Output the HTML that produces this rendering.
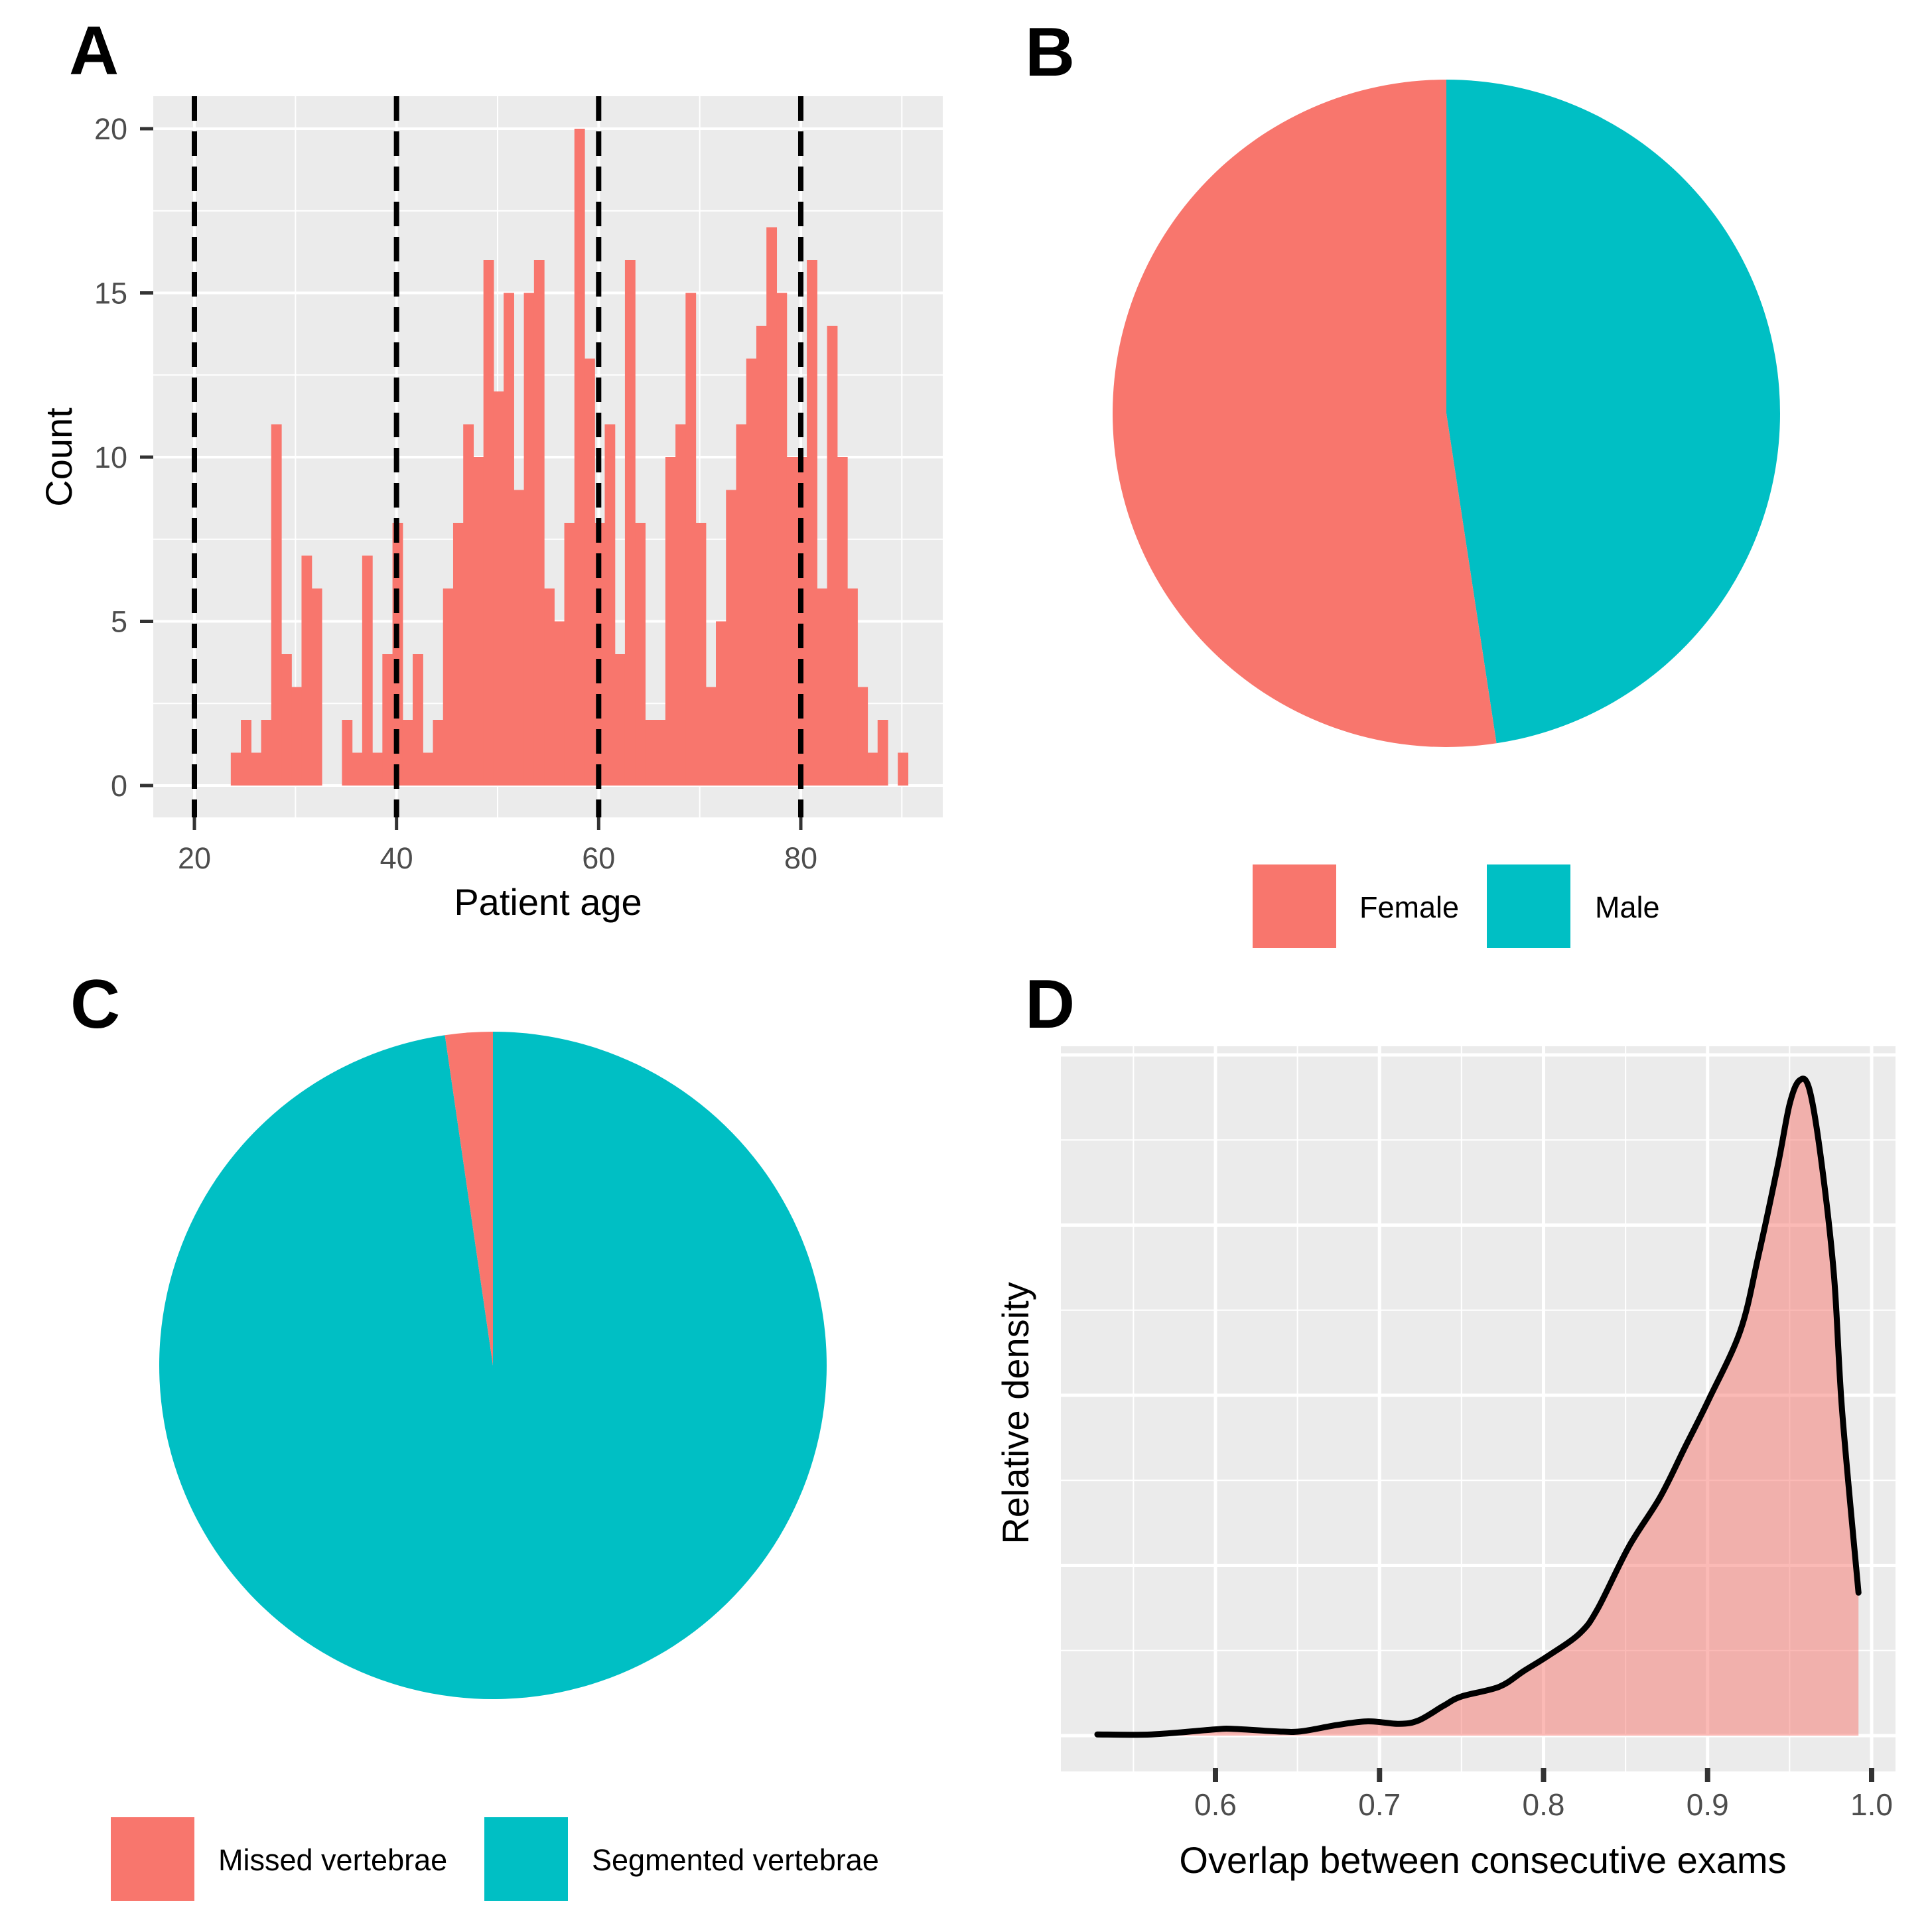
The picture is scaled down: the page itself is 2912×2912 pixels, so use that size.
<!DOCTYPE html>
<html><head><meta charset="utf-8"><style>
html,body{margin:0;padding:0;background:#fff}
svg{display:block}
text{font-family:"Liberation Sans",Arial,sans-serif}
</style></head><body>
<svg id="fig" width="2912" height="2912" viewBox="0 0 2912 2912" xmlns="http://www.w3.org/2000/svg">
<g id="pA"></g>
<g id="pB"></g>
<g id="pC"></g>
<g id="pD"></g>
</svg>
<script>
// ---- Panel A data ----
const binStart = 23.6;
const binWidth = 1;
const ageCounts = [1,2,1,2,11,4,3,7,6,0,0,2,1,7,1,4,8,2,4,1,2,6,8,11,10,16,12,15,9,15,16,6,5,8,20,13,8,11,4,16,8,2,2,10,11,15,8,3,5,9,11,13,14,17,15,10,10,16,6,14,10,6,3,1,2,0,1];
const ageTicks = [20,40,60,80];
const ageMinor = [30,50,70,90];
const countTicks = [0,5,10,15,20];
const dashedAges = [20,40,60,80];
// ---- Panel B data ----
const sexLabels = ["Female","Male"];
const sexShares = [52.4,47.6];
// ---- Panel C data ----
const vertLabels = ["Missed vertebrae","Segmented vertebrae"];
const vertShares = [2.3,97.7];
// ---- Panel D data ----
const overlapX = [0.528,0.561,0.599,0.61,0.637,0.652,0.674,0.693,0.712,0.724,0.739,0.75,0.773,0.788,0.803,0.822,0.833,0.852,0.871,0.886,0.901,0.92,0.931,0.943,0.95,0.956,0.962,0.969,0.977,0.982,0.992];
const densityY = [0.007,0.007,0.036,0.04,0.025,0.025,0.062,0.084,0.069,0.09,0.175,0.23,0.287,0.38,0.47,0.6,0.745,1.11,1.4,1.69,1.98,2.38,2.82,3.36,3.71,3.85,3.8,3.4,2.71,1.91,0.84];
const overlapTicks = [0.6,0.7,0.8,0.9,1.0];
const overlapMinor = [0.55,0.65,0.75,0.85,0.95];
const densityGrid = [0,1,2,3,4];

const NS="http://www.w3.org/2000/svg";
const RED="#F8766D", TEAL="#00BFC4", GRID="#EBEBEB";
function mk(parent,tag,attrs,txt){const e=document.createElementNS(NS,tag);for(const k in attrs)e.setAttribute(k,attrs[k]);if(txt!==undefined)e.textContent=txt;parent.appendChild(e);return e;}

// ===== Panel A =====
const A=document.getElementById('pA');
const ax=v=>293+(v-20)*15.233, ay=c=>1184-c*49.5;
const AL=231,AR=1421,AT=145,AB=1232;
let e=mk(A,'rect',{x:AL,y:AT,width:AR-AL,height:AB-AT,fill:GRID});


for(const v of ageMinor){e=mk(A,'line',{x1:ax(v),x2:ax(v),y1:AT,y2:AB,stroke:'#fff','stroke-width':2});

}
for(let c=2.5;c<20;c+=5){e=mk(A,'line',{x1:AL,x2:AR,y1:ay(c),y2:ay(c),stroke:'#fff','stroke-width':2});

}
for(const v of ageTicks){e=mk(A,'line',{x1:ax(v),x2:ax(v),y1:AT,y2:AB,stroke:'#fff','stroke-width':4});

}
for(const c of countTicks){e=mk(A,'line',{x1:AL,x2:AR,y1:ay(c),y2:ay(c),stroke:'#fff','stroke-width':4});

}
ageCounts.forEach((c,i)=>{if(c<=0)return;const x0=ax(binStart+i*binWidth),x1=ax(binStart+(i+1)*binWidth);
const b=mk(A,'rect',{x:x0,y:ay(c),width:x1-x0+0.6,height:ay(0)-ay(c),fill:RED});

});
for(const v of dashedAges){e=mk(A,'line',{x1:ax(v),x2:ax(v),y1:AT,y2:AB,stroke:'#000','stroke-width':8,'stroke-dasharray':'37 16'});

}
for(const c of countTicks){
e=mk(A,'line',{x1:211,x2:231,y1:ay(c),y2:ay(c),stroke:'#333','stroke-width':5});


e=mk(A,'text',{x:192,y:ay(c)+16,'text-anchor':'end','font-size':45,fill:'#4d4d4d'},String(c));

}
for(const v of ageTicks){
e=mk(A,'line',{x1:ax(v),x2:ax(v),y1:AB,y2:AB+19,stroke:'#333','stroke-width':5});


e=mk(A,'text',{x:ax(v),y:1309,'text-anchor':'middle','font-size':45,fill:'#4d4d4d'},String(v));

}
e=mk(A,'text',{x:826,y:1379,'text-anchor':'middle','font-size':56,fill:'#000'},'Patient age');


e=mk(A,'text',{x:0,y:0,'text-anchor':'middle','font-size':56,fill:'#000',transform:'translate(108,689) rotate(-90)'},'Count');


e=mk(A,'text',{x:104,y:112,'font-size':104,'font-weight':'bold',fill:'#000'},'A');



// ===== Pies =====
function pie(G,cx,cy,r,shares,labels,colors,legendY,sq,textX){
 const tot=shares.reduce((a,b)=>a+b,0);
 let ang=0;
 const order=[...shares.keys()].reverse();
 for(const i of order){
  const a0=ang, a1=ang+shares[i]/tot*360; ang=a1;
  const p=a=>[cx+r*Math.sin(a*Math.PI/180),cy-r*Math.cos(a*Math.PI/180)];
  const s=p(a0),t=p(a1),large=(a1-a0)>180?1:0;
  const path=mk(G,'path',{d:`M${cx},${cy} L${s[0]},${s[1]} A${r},${r} 0 ${large} 1 ${t[0]},${t[1]} Z`,fill:colors[i]});
  
  
 }
 labels.forEach((l,i)=>{
  const k=mk(G,'rect',{x:sq[i],y:legendY,width:126,height:126,fill:colors[i]});
  
  
  const t=mk(G,'text',{x:textX[i],y:legendY+80,'font-size':45,fill:'#000'},l);
  
  
 });
}
const B=document.getElementById('pB');
pie(B,2180,623,503,sexShares,sexLabels,[RED,TEAL],1303,[1888,2241],[2049,2404]);
e=mk(B,'text',{x:1545,y:114,'font-size':104,'font-weight':'bold',fill:'#000'},'B');


const C=document.getElementById('pC');
pie(C,743,2058,503,vertShares,vertLabels,[RED,TEAL],2739,[167,730],[329,892]);
e=mk(C,'text',{x:106,y:1549,'font-size':104,'font-weight':'bold',fill:'#000'},'C');



// ===== Panel D =====
const D=document.getElementById('pD');
const dx=v=>1832+(v-0.6)*2472.5, dy=d=>2616-d*256.5;
const DL=1599,DR=2857,DT=1577,DB=2670;
e=mk(D,'rect',{x:DL,y:DT,width:DR-DL,height:DB-DT,fill:GRID});


for(const v of overlapMinor){e=mk(D,'line',{x1:dx(v),x2:dx(v),y1:DT,y2:DB,stroke:'#fff','stroke-width':2});

}
for(const g of densityGrid){if(g>=4)continue;e=mk(D,'line',{x1:DL,x2:DR,y1:dy(g+0.5),y2:dy(g+0.5),stroke:'#fff','stroke-width':2});

}
for(const v of overlapTicks){e=mk(D,'line',{x1:dx(v),x2:dx(v),y1:DT,y2:DB,stroke:'#fff','stroke-width':5});

}
for(const g of densityGrid){e=mk(D,'line',{x1:DL,x2:DR,y1:dy(g),y2:dy(g),stroke:'#fff','stroke-width':5});

}
const pts=overlapX.map((v,i)=>[dx(v),dy(densityY[i])]);
function smooth(p){let d=`M${p[0][0]},${p[0][1]}`;for(let i=0;i<p.length-1;i++){const p0=p[i-1]||p[i],p1=p[i],p2=p[i+1],p3=p[i+2]||p2;
const c1=[p1[0]+(p2[0]-p0[0])/6,p1[1]+(p2[1]-p0[1])/6],c2=[p2[0]-(p3[0]-p1[0])/6,p2[1]-(p3[1]-p1[1])/6];
d+=` C${c1[0]},${c1[1]} ${c2[0]},${c2[1]} ${p2[0]},${p2[1]}`;}return d;}
const cd=smooth(pts);
const last=pts[pts.length-1];
e=mk(D,'path',{d:cd+` L${last[0]},${dy(0)} L${pts[0][0]},${dy(0)} Z`,fill:RED,'fill-opacity':0.5});


e=mk(D,'path',{d:cd,fill:'none',stroke:'#000','stroke-width':9,'stroke-linecap':'round','stroke-linejoin':'round'});


for(const v of overlapTicks){
e=mk(D,'line',{x1:dx(v),x2:dx(v),y1:DB-5,y2:DB+16,stroke:'#333','stroke-width':8});


e=mk(D,'text',{x:dx(v),y:2736,'text-anchor':'middle','font-size':46,fill:'#4d4d4d'},v.toFixed(1));

}
e=mk(D,'text',{x:2235,y:2823,'text-anchor':'middle','font-size':56,fill:'#000'},'Overlap between consecutive exams');


e=mk(D,'text',{x:0,y:0,'text-anchor':'middle','font-size':56,fill:'#000',transform:'translate(1550,2130) rotate(-90)'},'Relative density');


e=mk(D,'text',{x:1545,y:1549,'font-size':104,'font-weight':'bold',fill:'#000'},'D');


</script>
</body></html>
